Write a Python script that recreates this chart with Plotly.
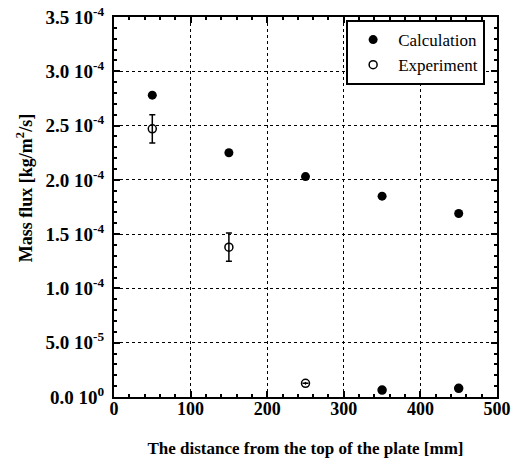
import plotly.graph_objects as go

calc_x = [50, 150, 250, 350, 450]
calc_y = [2.78e-4, 2.25e-4, 2.03e-4, 1.85e-4, 1.69e-4]

exp_x = [50, 150, 250, 350, 450]
exp_y = [2.47e-4, 1.38e-4, 1.26e-5, 6.4e-6, 8.0e-6]
exp_err = [1.3e-5, 1.3e-5, 0, 0, 0]
exp_symbols = ["circle-open", "circle-open", "circle-open-dot", "circle", "circle"]

ytick_vals = [0, 5e-5, 1e-4, 1.5e-4, 2e-4, 2.5e-4, 3e-4, 3.5e-4]
ytick_text = ["0.0 10<sup>0</sup>", "5.0 10<sup>-5</sup>", "1.0 10<sup>-4</sup>",
              "1.5 10<sup>-4</sup>", "2.0 10<sup>-4</sup>", "2.5 10<sup>-4</sup>",
              "3.0 10<sup>-4</sup>", "3.5 10<sup>-4</sup>"]
xtick_vals = [0, 100, 200, 300, 400, 500]

x_title = "The distance from the top of the plate [mm]"
y_title = "Mass flux [kg/m<sup>2</sup>/s]"

FONT = "Liberation Serif, Times New Roman, serif"

fig = go.Figure()
fig.add_trace(go.Scatter(
    x=calc_x, y=calc_y, mode="markers", name="Calculation",
    marker=dict(symbol="circle", size=9, color="black"),
))
fig.add_trace(go.Scatter(
    x=exp_x, y=exp_y, mode="markers", name="Experiment",
    marker=dict(symbol=exp_symbols, size=8, color="black", line=dict(width=1.5, color="black")),
    error_y=dict(type="data", array=exp_err, visible=True, color="black", thickness=1.5, width=3),
))

axis_common = dict(
    showline=True, linecolor="black", linewidth=2, mirror="allticks",
    ticks="inside", ticklen=6, tickwidth=1.5, tickcolor="black",
    showgrid=True, gridcolor="black", griddash="dot", gridwidth=1,
    zeroline=False, automargin=False, ticklabeloverflow="allow",
)

fig.update_xaxes(
    range=[0, 500], tickmode="array", tickvals=xtick_vals,
    ticklabelstandoff=-6,
    tickfont=dict(family=FONT, size=18, color="black", weight="bold"),
    minor=dict(ticks="inside", ticklen=3, tickcolor="black", tickmode="linear", tick0=0, dtick=20, showgrid=False),
    title=dict(text=x_title,
               font=dict(family=FONT, size=17, color="black", weight="bold"), standoff=25),
    **axis_common,
)
fig.update_yaxes(
    range=[0, 3.5e-4], tickmode="array", tickvals=ytick_vals, ticktext=ytick_text,
    ticklabelstandoff=4,
    tickfont=dict(family=FONT, size=19, color="black", weight="bold"),
    minor=dict(ticks="inside", ticklen=3, tickcolor="black", tickmode="linear", tick0=0, dtick=1e-5, showgrid=False),
    **axis_common,
)

fig.add_annotation(
    text=y_title, textangle=-90, showarrow=False,
    xref="paper", yref="paper", x=-0.232, y=0.55, xanchor="center", yanchor="middle",
    font=dict(family=FONT, size=18, color="black", weight="bold"),
)

fig.update_layout(
    width=514, height=466,
    margin=dict(l=114, r=17, t=17, b=69, autoexpand=False),
    plot_bgcolor="white", paper_bgcolor="white",
    font=dict(family=FONT, color="black"),
    legend=dict(x=0.969, y=0.992, xanchor="right", yanchor="top",
                bgcolor="white", bordercolor="black", borderwidth=2,
                font=dict(family=FONT, size=17, color="black"),
                itemwidth=40, tracegroupgap=0),
    showlegend=True,
)

fig.write_html("out.html", post_script="document.body.style.margin='0';",
               config={"displayModeBar": False})
